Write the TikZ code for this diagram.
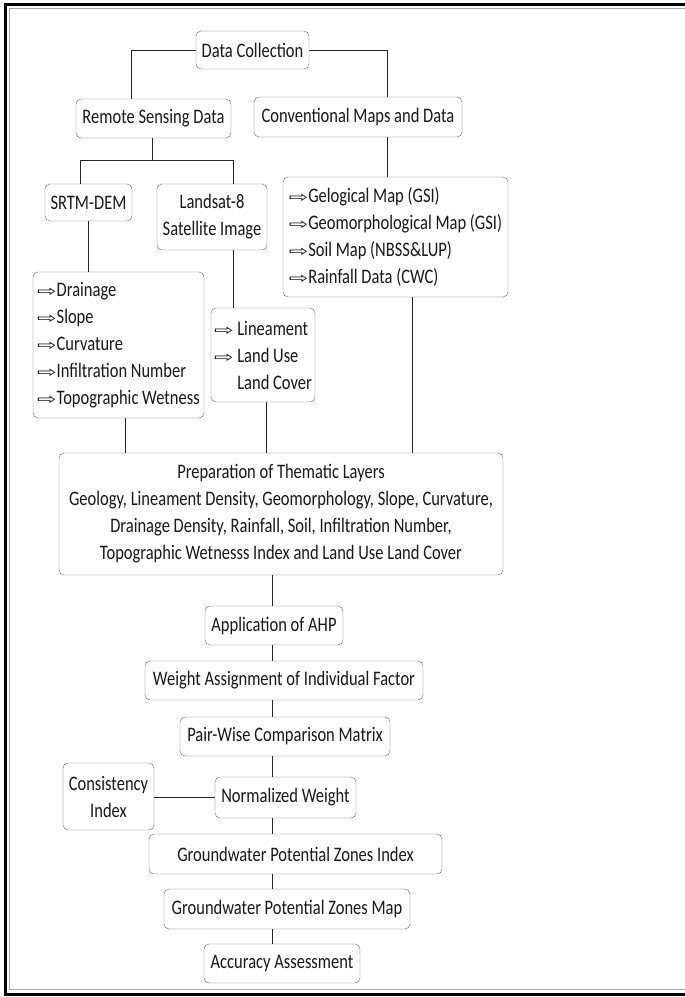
\documentclass[tikz,border=0pt]{standalone}
\usepackage{fontspec}
\setmainfont{Carlito}
\newfontfamily\arrowfont{DejaVu Sans}
\usetikzlibrary{positioning}
\newcommand{\arr}{\scalebox{1.45}[0.75]{\arrowfont\fontsize{16}{16}\selectfont ⇨}}

\begin{document}
\begin{tikzpicture}[x=1pt,y=-0.8pt,yscale=1.25,transform shape,
    box/.style={draw=black!60,rounded corners=5pt,fill=white,align=center,inner sep=2pt,
                text=black!90,font=\fontsize{16.5}{21.6}\selectfont},
    list/.style={box,align=left},
    link/.style={draw=black!85,line width=0.9pt}]
    \useasboundingbox (0,0) rectangle (685,997);
    % outer frame
    \draw[line width=3pt] (685,4.5) -- (5.5,4.5) -- (5.5,994.5) -- (685,994.5);
    \draw[black!35,line width=1pt] (685,8.5) -- (9,8.5) -- (9,989.5) -- (685,989.5);

    % boxes
    \node[box,minimum width=113pt,minimum height=30.4pt] (collect) at (252.5,50) {Data Collection};
    \node[box,minimum width=155pt,minimum height=31.2pt] (rsd) at (153.5,118.5) {Remote Sensing Data};
    \node[box,minimum width=208pt,minimum height=32pt] (conv) at (358,117) {Conventional Maps and Data};
    \node[box,minimum width=87pt,minimum height=29.6pt] (srtm) at (88.5,202.5) {SRTM-DEM};
    \node[box,minimum width=110pt,minimum height=52.8pt] (landsat) at (212,217) {Landsat-8\\Satellite Image};
    \node[list,minimum width=225pt,minimum height=96pt] (convlist) at (395.5,237)
        {\arr Gelogical Map (GSI)\\\arr Geomorphological Map (GSI)\\\arr Soil Map (NBSS\&LUP)\\\arr Rainfall Data (CWC)};
    \node[list,minimum width=171pt,minimum height=116.8pt] (srtmlist) at (118.5,345)
        {\arr Drainage\\\arr Slope\\\arr Curvature\\\arr Infiltration Number\\\arr Topographic Wetness};
    \node[list,minimum width=104pt,minimum height=75.2pt] (lslist) at (263,355)
        {\arr\ Lineament\\\arr\ Land Use\\\phantom{\arr\ }Land Cover};
    \node[box,minimum width=444pt,minimum height=97.6pt] (prep) at (281,514)
        {Preparation of Thematic Layers\\Geology, Lineament Density, Geomorphology, Slope, Curvature,\\Drainage Density, Rainfall, Soil, Infiltration Number,\\Topographic Wetnesss Index and Land Use Land Cover};
    \node[box,minimum width=138pt,minimum height=31.2pt] (ahp) at (274,625.5) {Application of AHP};
    \node[box,minimum width=278pt,minimum height=31.2pt] (weight) at (284,680.5) {Weight Assignment of Individual Factor};
    \node[box,minimum width=210pt,minimum height=31.2pt] (pair) at (285,736.5) {Pair-Wise Comparison Matrix};
    \node[box,minimum width=141pt,minimum height=32.8pt] (norm) at (285.5,797.5) {Normalized Weight};
    \node[box,minimum width=91pt,minimum height=53.6pt] (consist) at (108.5,796.5) {Consistency\\Index};
    \node[box,minimum width=293pt,minimum height=32pt] (index) at (295.5,854) {Groundwater Potential Zones Index};
    \node[box,minimum width=246pt,minimum height=32pt] (gwmap) at (287,909) {Groundwater Potential Zones Map};
    \node[box,minimum width=156pt,minimum height=31.2pt] (accuracy) at (282,963.5) {Accuracy Assessment};

    % connectors
    \coordinate (jl) at (131,50);
    \coordinate (jr) at (387,50);
    \draw[link] (collect.west) -| (rsd.north -| jl);
    \draw[link] (collect.east) -| (conv.north -| jr);
    \coordinate (split) at (152,160);
    \coordinate (sl) at (80,160);
    \coordinate (sr) at (233,160);
    \draw[link] (rsd.south -| split) -- (split);
    \draw[link] (srtm.north -| sl) -- (sl) -- (sr) -- (landsat.north -| sr);
    \draw[link] (srtm.south) -- (srtmlist.north -| srtm.south);
    \draw[link] (landsat.south -| sr) -- (lslist.north -| sr);
    \draw[link] (conv.south -| jr) -- (convlist.north -| jr);
    \coordinate (pa) at (125,453);
    \coordinate (pb) at (266,453);
    \coordinate (pc) at (412,453);
    \draw[link] (srtmlist.south -| pa) -- (prep.north -| pa);
    \draw[link] (lslist.south -| pb) -- (prep.north -| pb);
    \draw[link] (convlist.south -| pc) -- (prep.north -| pc);
    \coordinate (spine) at (272,0);
    \foreach \a/\b in {prep/ahp,ahp/weight,weight/pair,pair/norm,norm/index,index/gwmap,gwmap/accuracy}
        \draw[link] (\a.south -| spine) -- (\b.north -| spine);
    \draw[link] (consist.east |- norm.west) -- (norm.west);
\end{tikzpicture}
\end{document}
